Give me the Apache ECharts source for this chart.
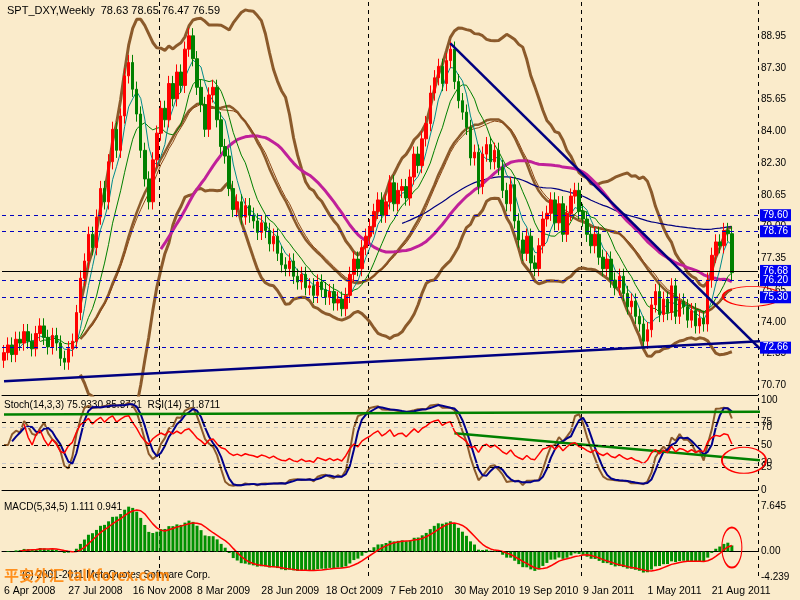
<!DOCTYPE html>
<html><head><meta charset="utf-8">
<script src="https://cdn.jsdelivr.net/npm/echarts@6/dist/echarts.min.js"></script>
<style>html,body{margin:0;padding:0;background:#FAEBCB}#c{width:800px;height:600px}</style>
</head><body><div id="c"></div>
<script>
const closes = [
72.4,72.8,72.3,73.1,72.9,73.5,73.0,72.6,73.4,73.8,
73.2,72.7,73.3,72.9,72.1,71.9,72.6,73.0,74.5,76.3,
77.2,78.6,77.9,79.5,81.0,80.3,82.4,84.1,83.0,84.8,
86.9,87.6,86.2,84.9,83.0,81.5,80.3,82.5,83.9,85.2,
84.6,86.5,85.7,87.1,86.4,88.3,89.0,87.8,86.3,85.4,
84.1,85.9,86.3,84.6,83.2,82.7,81.0,79.9,80.3,79.5,
80.1,79.6,79.3,78.7,79.2,78.8,78.1,78.5,77.6,77.0,
76.8,77.2,76.4,76.1,76.5,75.8,75.9,75.4,76.1,75.7,
75.3,75.6,75.0,75.2,74.7,75.4,76.5,77.3,76.8,77.9,
78.5,79.0,79.8,80.4,79.6,80.3,81.3,80.2,80.9,81.1,
80.5,81.6,82.8,82.2,83.6,84.4,86.0,86.8,87.4,86.5,
87.7,88.3,86.6,85.6,85.0,84.2,82.6,82.9,81.1,82.8,
83.3,82.4,83.0,82.1,80.9,80.2,81.2,79.3,78.3,77.6,
78.5,77.1,76.8,78.0,79.4,79.7,80.4,79.2,80.2,78.6,
79.7,80.6,80.9,79.8,79.4,78.6,78.0,78.6,77.4,76.8,
77.3,76.2,75.8,76.4,75.5,74.8,75.1,74.3,73.9,73.0,
73.6,74.9,75.6,74.4,75.2,74.5,75.9,74.3,75.1,74.8,
74.1,74.6,73.8,74.2,73.9,76.2,77.5,78.2,78.0,78.8,
78.63,76.59];
const firstOpen = 72.0;
const dateLabels = ["6 Apr 2008","27 Jul 2008","16 Nov 2008","8 Mar 2009","28 Jun 2009","18 Oct 2009","7 Feb 2010","30 May 2010","19 Sep 2010","9 Jan 2011","1 May 2011","21 Aug 2011"];
const priceTicks = [70.70,72.35,74.00,75.65,77.35,79.00,80.65,82.30,84.00,85.65,87.30,88.95];
const stochTicks = [0,25,30,50,70,75,100];
const macdTicks = [-4.239,0,7.645];
const levelLines = [79.60,78.76,76.68,76.20,75.30,72.66];
const trendDown = [[111,88.6],[188,72.6]];
const trendUp = [[0,70.9],[188,73.0]];
const stochTrendTop = [[0,84],[188,87]];
const stochTrendDown = [[112,63],[188,33]];

const N = 188;
const cats = [];
for (let i=0;i<N;i++){ cats.push(i%16===0 && i/16<dateLabels.length ? dateLabels[i/16] : ' '.repeat(i+1)); }
const ohlc = closes.map((c,i)=>{const o=i?closes[i-1]:firstOpen;return [o,c,Math.min(o,c)-0.4,Math.max(o,c)+0.4];});
const lows = ohlc.map(d=>d[2]), highs = ohlc.map(d=>d[3]);
function sma(a,p){return a.map((_,i)=>{if(i<p-1)return null;let s=0;for(let k=i-p+1;k<=i;k++)s+=a[k];return s/p;});}
function ema(a,p){const k=2/(p+1);let r=[],e=a[0];a.forEach((v,i)=>{e=i?v*k+e*(1-k):v;r.push(e);});return r;}
const ma5=sma(closes,5), ma10=sma(closes,10), ma21=sma(closes,21), ma55=sma(closes,40), ma100=sma(closes,100);
const bbMid=sma(closes,20);
const bbUp=[],bbDn=[];
closes.forEach((_,i)=>{if(i<19){bbUp.push(null);bbDn.push(null);return;}let m=bbMid[i],s=0;for(let k=i-19;k<=i;k++)s+=(closes[k]-m)**2;s=Math.sqrt(s/20);bbUp.push(m+2*s);bbDn.push(m-2*s);});
const kRaw=closes.map((c,i)=>{const a=Math.max(0,i-13);const hh=Math.max(...highs.slice(a,i+1)),ll=Math.min(...lows.slice(a,i+1));return hh===ll?50:(c-ll)/(hh-ll)*100;});
const kS=sma(kRaw,3).map(v=>v==null?50:v);
const dS=sma(kS,3);
const rsi=[];let ag=0,al=0;
closes.forEach((c,i)=>{if(!i){rsi.push(null);return;}const d=c-closes[i-1];const g=Math.max(d,0),l=Math.max(-d,0);ag=(ag*13+g)/14;al=(al*13+l)/14;rsi.push(i<5?null:100-100/(1+ag/(al||1e-6)));});
const e5=ema(closes,5),e34=ema(closes,34);
const macd=e5.map((v,i)=>v-e34[i]);
const sig=sma(macd,5);

const chart=echarts.init(document.getElementById('c'));
const font='"Liberation Sans", Arial, sans-serif';
function line(name,data,color,w,xi,yi,extra){return Object.assign({type:'line',name,data,xAxisIndex:xi||0,yAxisIndex:yi||0,showSymbol:false,symbol:'none',lineStyle:{color,width:w},silent:true,z:3},extra||{});}
const ell=(c,s)=>({coord:c,symbol:'circle',symbolSize:s,itemStyle:{color:'rgba(0,0,0,0)',borderColor:'#f00',borderWidth:1.5},label:{show:false}});
const axisCommon={axisLine:{lineStyle:{color:'#000'}},axisTick:{show:false},splitLine:{show:false}};
const ylab={color:'#000',fontSize:10,margin:3,fontFamily:font};
chart.setOption({
  animation:false,
  backgroundColor:'#FAEBCB',
  textStyle:{fontFamily:font},
  grid:[{left:2,right:42,top:2,height:393},{left:2,right:42,top:398,height:99},{left:2,right:42,top:500,height:80}],
  xAxis:[0,1,2].map(g=>({type:'category',gridIndex:g,data:cats,boundaryGap:true,
    axisLine:{lineStyle:{color:'#000'}},axisTick:{show:false},
    axisLabel:{show:g===2,interval:0,color:'#000',fontSize:10.5,align:'left',margin:6,fontFamily:font,formatter:v=>v.trim()},
    splitLine:{show:true,interval:(i)=>i===39||i===91||i===144,lineStyle:{color:'#000',type:[4,4],width:1}}})),
  yAxis:[
    Object.assign({type:'value',gridIndex:0,position:'right',min:70.18,max:90.77,axisLabel:Object.assign({customValues:priceTicks,formatter:v=>v.toFixed(2)},ylab)},axisCommon),
    Object.assign({type:'value',gridIndex:1,position:'right',min:-7.8,max:102.2,axisLabel:Object.assign({customValues:stochTicks},ylab)},axisCommon),
    Object.assign({type:'value',gridIndex:2,position:'right',min:-4.74,max:8.65,axisLabel:Object.assign({customValues:macdTicks,formatter:v=>v===0?'0.00':String(v)},ylab)},axisCommon)
  ],
  series:[
    line('bbUp',bbUp,'#8B5A2B',3),
    line('bbDn',bbDn,'#8B5A2B',3),
    line('bbMid',bbMid,'#8B5A2B',2.5),
    line('ma100',ma100,'#000080',1.2),
    line('ma55',ma55,'#C0209A',3),
    line('ma21',ma21,'#8B4513',1),
    line('ma10',ma10,'#008000',1),
    line('ma5',ma5,'#008B8B',1),
    line('trendDown',trendDown,'#000080',2.5,0,0,{z:5}),
    line('trendUp',trendUp,'#000080',2.5,0,0,{z:5}),
    {type:'candlestick',data:ohlc,barWidth:3,z:4,
      itemStyle:{color:'#FF0000',color0:'#008000',borderColor:'#FF0000',borderColor0:'#008000'},
      markLine:{symbol:'none',silent:true,data:levelLines.map((v,i)=>({yAxis:v,lineStyle:{color:i===2?'#000':'#0000C0',type:i===2?'solid':[4,4],width:1},
        label:{show:true,position:'end',formatter:v.toFixed(2),color:'#fff',backgroundColor:'#0000F0',padding:[1,3],fontSize:10,distance:2,fontFamily:font}}))},
      markPoint:{silent:true,data:[ell([186,75.35],[58,20])]}},
    line('stochK',kS,'#8B5A2B',2,1,1),
    line('stochD',dS,'#00008B',2,1,1,{
      markLine:{symbol:'none',silent:true,label:{show:false},data:[
        ...[75,50,25].map(v=>({yAxis:v,lineStyle:{color:'#000',type:[4,4],width:1}})),
        ...[70,30].map(v=>({yAxis:v,lineStyle:{color:'#C8C8C8',type:[4,4],width:1}}))]},
      markPoint:{silent:true,data:[ell([184,33],[44,26])]}}),
    line('stochTop',stochTrendTop,'#008000',2.5,1,1),
    line('stochDown',stochTrendDown,'#008000',2.5,1,1),
    line('rsi',rsi,'#FF0000',1.5,1,1),
    {type:'bar',xAxisIndex:2,yAxisIndex:2,data:macd,barWidth:3,itemStyle:{color:'#009000'},silent:true,
      markLine:{symbol:'none',silent:true,label:{show:false},data:[{yAxis:0,lineStyle:{color:'#000',type:[4,4],width:1}}]},
      markPoint:{silent:true,data:[ell([181,0.7],[20,40])]}},
    line('signal',sig,'#FF0000',1.5,2,2)
  ],
  graphic:[
    {type:'text',left:7,top:5,style:{text:'SPT_DXY,Weekly  78.63 78.65 76.47 76.59',fontSize:11,fill:'#000',fontFamily:font}},
    {type:'text',left:4,top:400,style:{text:'Stoch(14,3,3) 75.9330 85.8721  RSI(14) 51.8711',fontSize:10,fill:'#000',fontFamily:font}},
    {type:'text',left:4,top:502,style:{text:'MACD(5,34,5) 1.111 0.941',fontSize:10,fill:'#000',fontFamily:font}},
    {type:'text',left:22,top:570,style:{text:'(c) 2001-2011 MetaQuotes Software Corp.',fontSize:10,fill:'#000',fontFamily:font}},
    {type:'text',left:4,top:568,style:{text:'平安外汇 talkforex.com',fontSize:15,fontWeight:'bold',fill:'#FF8000',fontFamily:'"Noto Sans CJK SC", sans-serif',opacity:0.85}}
  ]
});
</script></body></html>
